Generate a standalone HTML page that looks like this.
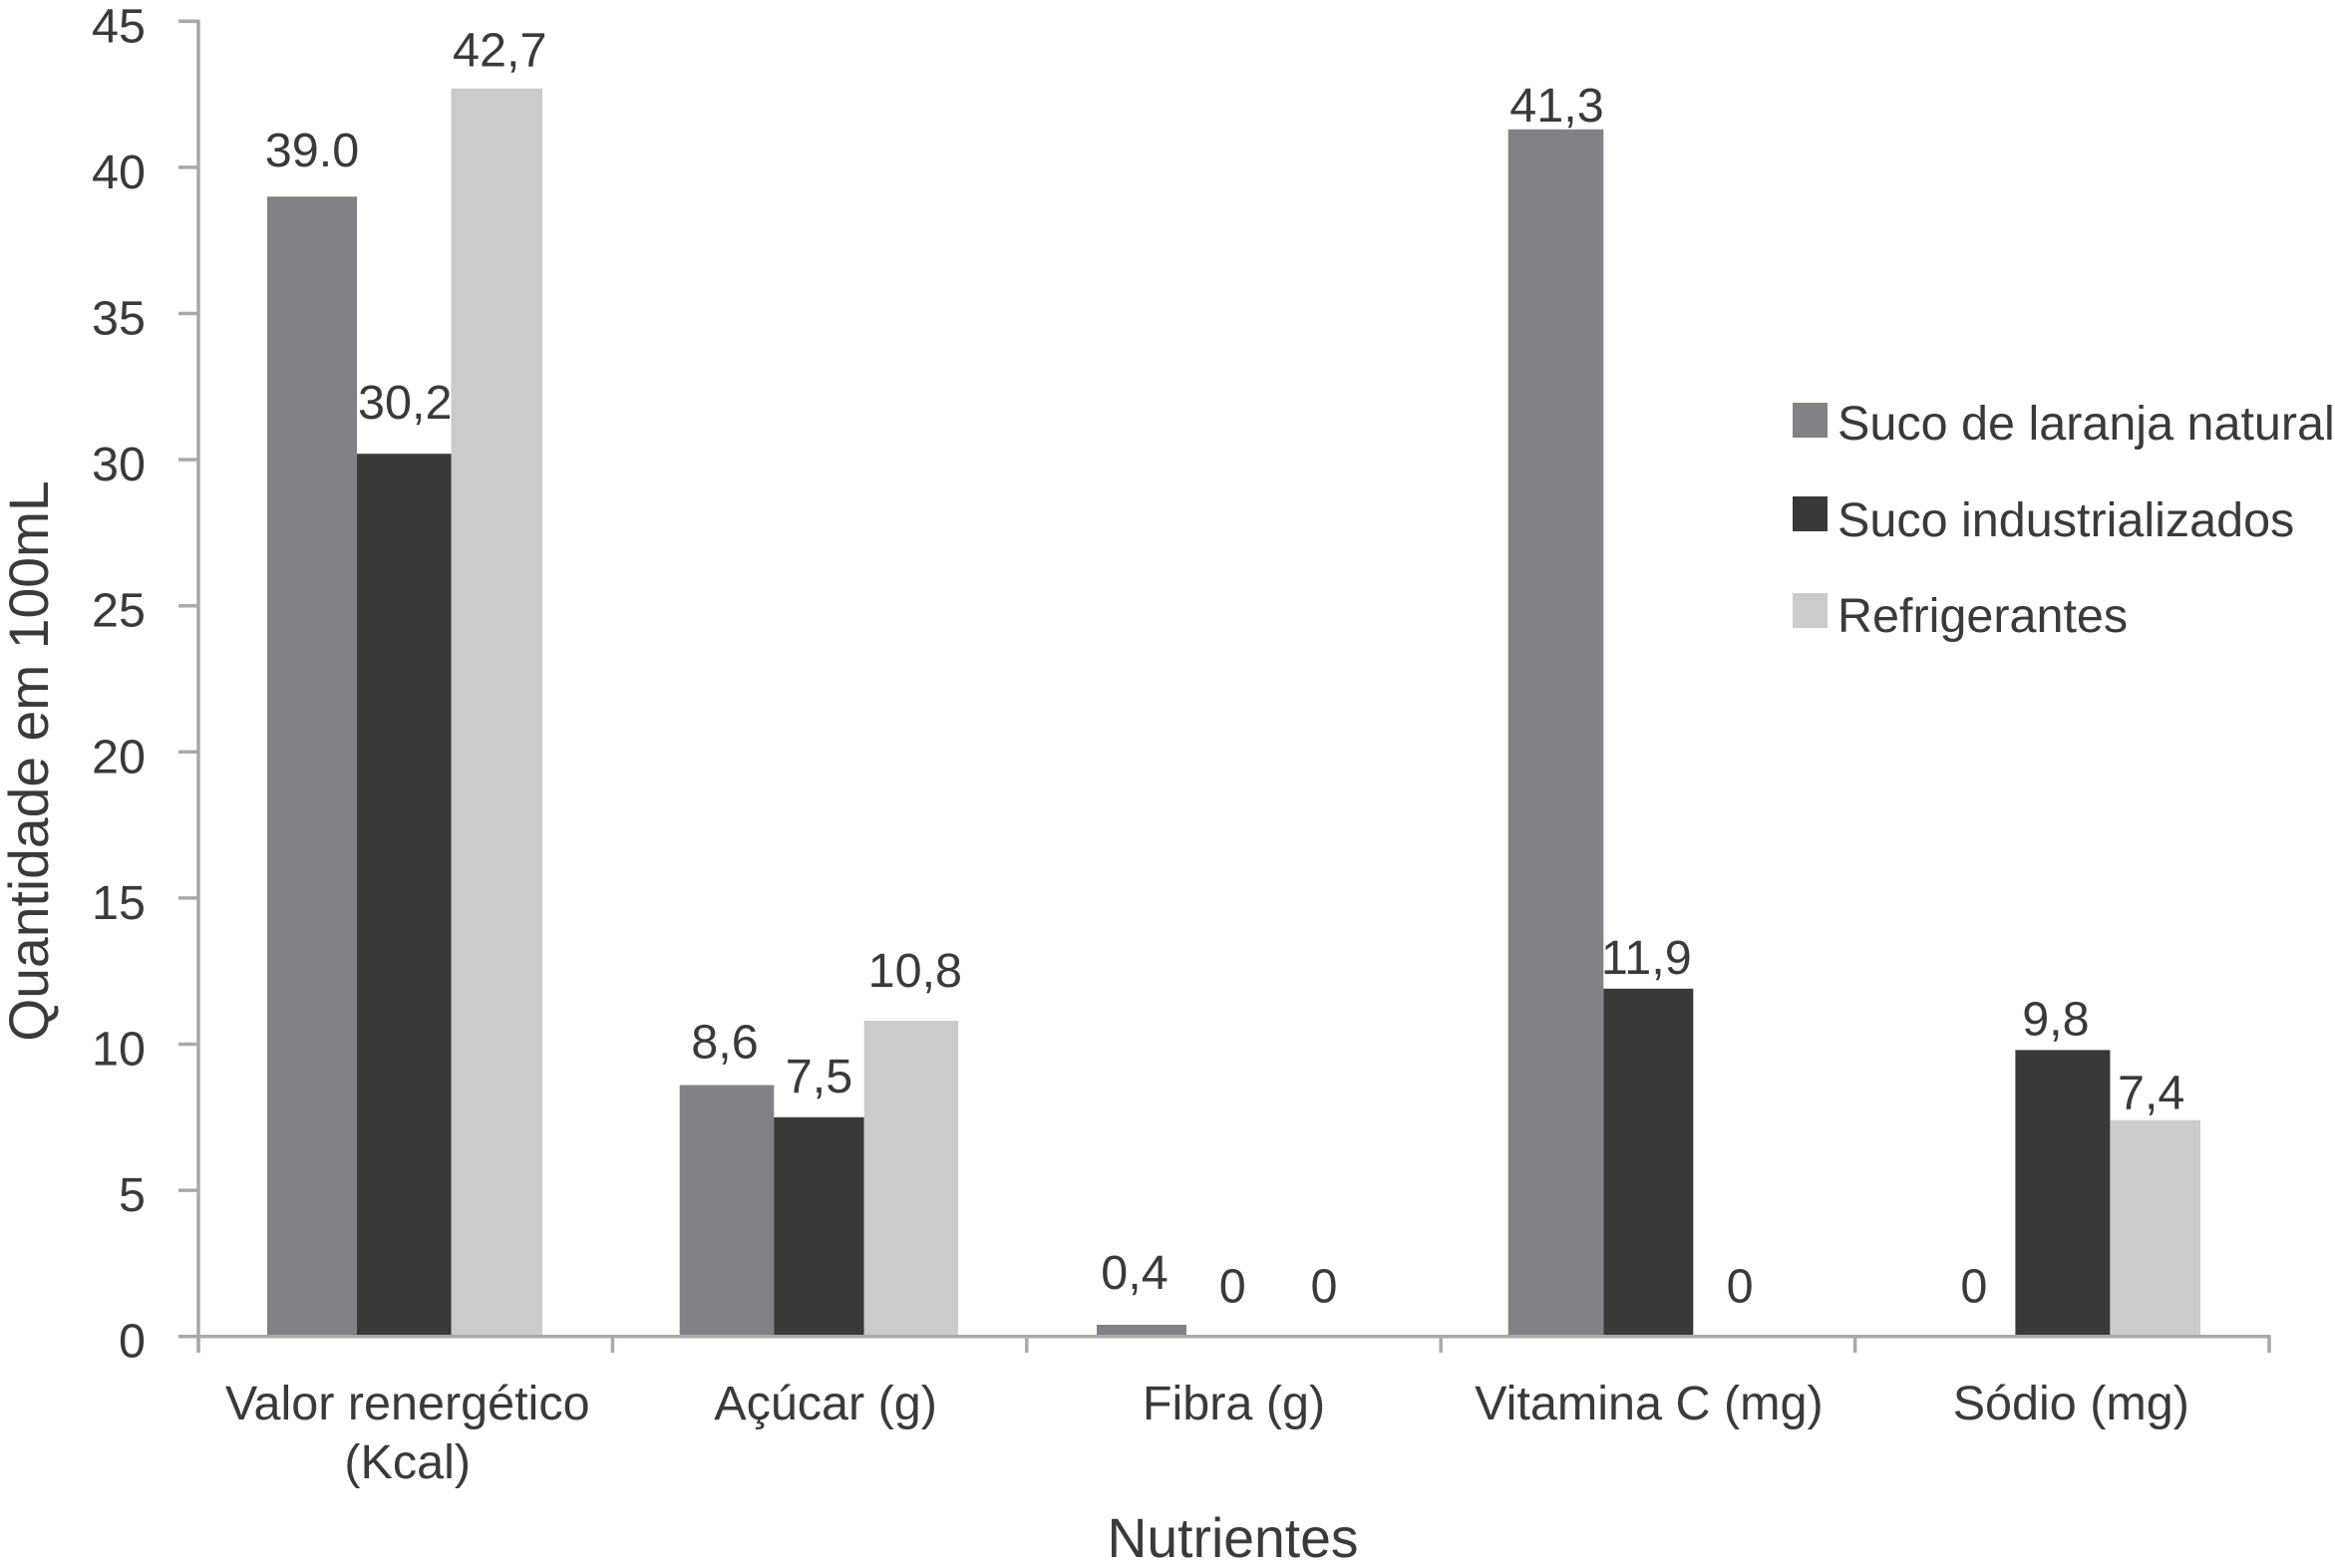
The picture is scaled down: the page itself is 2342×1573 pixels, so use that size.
<!DOCTYPE html>
<html lang="pt">
<head>
<meta charset="utf-8">
<title>Nutrientes por tipo de bebida</title>
<style>
  html, body { margin: 0; padding: 0; background: #ffffff; }
  svg { display: block; }
  text { font-family: "Liberation Sans", sans-serif; font-size: 48.5px; fill: #3a3a3c; }
  text.axis-title { font-size: 55.3px; }
</style>
</head>
<body>
<svg id="chart" width="2342" height="1573" viewBox="0 0 2342 1573" xmlns="http://www.w3.org/2000/svg">
  <g id="bars"></g>
  <g id="axes"></g>
  <g id="labels"></g>
  <text class="axis-title" transform="translate(48,763.5) rotate(-90)" text-anchor="middle">Quantidade em 100mL</text>
  <text class="axis-title" x="1236.5" y="1562" text-anchor="middle">Nutrientes</text>
  <g>
    <g>
      <rect x="1798" y="404" width="35" height="35" fill="#808285"></rect>
      <text x="1843" y="441">Suco de laranja natural</text>
    </g>
    <g>
      <rect x="1798" y="498" width="35" height="35" fill="#393939"></rect>
      <text x="1843" y="538">Suco industrializados</text>
    </g>
    <g>
      <rect x="1798" y="595" width="35" height="35" fill="#c9cbcd"></rect>
      <text x="1843" y="634">Refrigerantes</text>
    </g>
  </g>
</svg>
<script>
// Chart data
const categories = [["Valor renergético", "(Kcal)"], ["Açúcar (g)"], ["Fibra (g)"], ["Vitamina C (mg)"], ["Sódio (mg)"]];
const sucoNatural = [39.0, 8.6, 0.4, 41.3, 0];
const sucoIndustrializados = [30.2, 7.5, 0, 11.9, 9.8];
const refrigerantes = [42.7, 10.8, 0, 0, 7.4];
const naturalLabels = ["39.0", "8,6", "0,4", "41,3", "0"];
const industrializadosLabels = ["30,2", "7,5", "0", "11,9", "9,8"];
const refrigerantesLabels = ["42,7", "10,8", "0", "0", "7,4"];
const yTicks = [0, 5, 10, 15, 20, 25, 30, 35, 40, 45];

// Layout (not data)
const SVG_NS = "http://www.w3.org/2000/svg";
const plot = { left: 199, right: 2276, zero: 1340.7, top: 21.3, yMax: 45 };
const seriesColors = ["#808285", "#393939", "#c9cbcd"];
const seriesKeys = ["natural", "industrializados", "refrigerantes"];
const barEdgeOffsets = [
  [-138.7, -48.7, 45.8, 137.3],
  [-140.4, -45.8, 44.6, 138.9],
  [-137.5, -47.5, 45, 138],
  [-140.2, -44.6, 45.4, 137],
  [-140, -46.9, 48.1, 138.7]
];
const labelNudgeX = [[0, 1, 3], [-2, 0, 4], [-7, 0, -1], [1, -2, 1], [5, -7, -4]];
const labelNudgeY = [[-30, -35, -22], [-27, -25, -34], [-36, -34, -34], [-8, -15, -34], [-34, -15, -11]];
const categoryNudgeX = [2, 6, 0, 1, 9];
const seriesValues = [sucoNatural, sucoIndustrializados, refrigerantes];
const seriesLabels = [naturalLabels, industrializadosLabels, refrigerantesLabels];

function yScale(v) {
  return plot.zero - (plot.zero - plot.top) * v / plot.yMax;
}
function bandEdge(i) {
  return plot.left + (plot.right - plot.left) * i / categories.length;
}
function bandCenter(i) {
  return (bandEdge(i) + bandEdge(i + 1)) / 2;
}
function make(tag, parent) {
  const el = document.createElementNS(SVG_NS, tag);
  parent.appendChild(el);
  return el;
}
function line(parent, x1, y1, x2, y2, w) {
  const el = make("line", parent);
  el.setAttribute("x1", x1);
  el.setAttribute("y1", y1);
  el.setAttribute("x2", x2);
  el.setAttribute("y2", y2);
  el.setAttribute("stroke", "#a7a9ac");
  el.setAttribute("stroke-width", w);
  return el;
}

const barsG = document.getElementById("bars");
const axesG = document.getElementById("axes");
const labelsG = document.getElementById("labels");

// Bars and value labels
categories.forEach(function (cat, i) {
  seriesValues.forEach(function (values, s) {
    const cx = bandCenter(i);
    const x0 = cx + barEdgeOffsets[i][s];
    const x1 = cx + barEdgeOffsets[i][s + 1];
    const top = yScale(values[i]);
    const bar = make("rect", barsG);
    
    
    bar.setAttribute("x", x0);
    bar.setAttribute("y", top);
    bar.setAttribute("width", x1 - x0);
    bar.setAttribute("height", plot.zero - top);
    bar.setAttribute("fill", seriesColors[s]);

    const label = make("text", labelsG);
    
    
    label.setAttribute("x", (x0 + x1) / 2 + labelNudgeX[i][s]);
    label.setAttribute("y", top + labelNudgeY[i][s]);
    label.setAttribute("text-anchor", "middle");
    label.textContent = seriesLabels[s][i];
  });
});

// Y axis
const yAxis = line(axesG, plot.left, plot.top - 1.5, plot.left, 1357, 3.5);


yTicks.forEach(function (t) {
  const y = yScale(t);
  const tick = line(axesG, 179, y, plot.left, y, 3.5);
  
  
  const lab = make("text", axesG);
  
  
  lab.setAttribute("x", 146);
  lab.setAttribute("y", y + 21);
  lab.setAttribute("text-anchor", "end");
  lab.textContent = t;
});

// X axis
const xAxis = line(axesG, 179, plot.zero, plot.right + 1.5, plot.zero, 3.5);


for (let i = 0; i <= categories.length; i++) {
  const tick = line(axesG, bandEdge(i), plot.zero, bandEdge(i), 1357, 3.5);
  
  
}
categories.forEach(function (cat, i) {
  cat.forEach(function (row, r) {
    const lab = make("text", axesG);
    
    
    lab.setAttribute("x", bandCenter(i) + categoryNudgeX[i]);
    lab.setAttribute("y", 1424 + r * 59);
    lab.setAttribute("text-anchor", "middle");
    lab.textContent = row;
  });
});
</script>
</body>
</html>
